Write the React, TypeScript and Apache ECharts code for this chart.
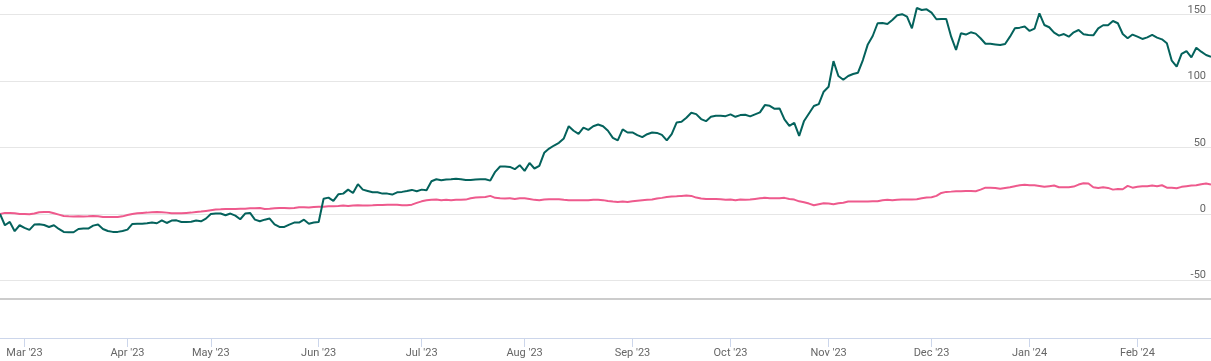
import React, { useEffect, useRef } from "react";
import * as echarts from "echarts";

// Trading calendar (categories)
const startDate = "2023-02-22";
const endDate = "2024-02-22";
const holidays = [
  "2023-03-07", "2023-03-30", "2023-04-04", "2023-04-07", "2023-04-14",
  "2023-05-01", "2023-06-28", "2023-08-15", "2023-09-19", "2023-10-02",
  "2023-10-24", "2023-11-14", "2023-11-27", "2023-12-25", "2024-01-22",
  "2024-01-26",
];
const specialSessions = ["2023-11-12", "2024-01-20"];

const monthNames = ["Jan", "Feb", "Mar", "Apr", "May", "Jun", "Jul", "Aug", "Sep", "Oct", "Nov", "Dec"];

// % return of the stock (dark line)
const stockReturn = [
  0, -8.5, -6, -13, -8.5, -10.5, -12, -8, -7.8, -8.3,
  -9.8, -8.5, -11.3, -13.5, -13.8, -13.8, -11.3, -11, -11, -8.8,
  -8, -11.3, -12.8, -13.5, -13.5, -12.8, -11.8, -7.5, -7.3, -7.3,
  -7, -6.5, -7, -4.8, -6.8, -5, -4.8, -6, -6, -5.8,
  -5, -5.5, -3.5, 0, 0.3, 0.3, -1, 0.3, -1.3, -4,
  0.3, 0.8, -4.3, -5.5, -4.3, -3.5, -7.8, -9.8, -9.8, -8,
  -6.5, -6.5, -4.3, -7.3, -6.5, -6, 11.5, 12.3, 9.8, 14.8,
  15.3, 18.3, 15.8, 22.4, 18.3, 17.3, 16.3, 16.3, 15.3, 15.3,
  14.6, 16.3, 16.6, 17.3, 18.1, 17.1, 18.3, 17.8, 24.6, 26.1,
  25.4, 25.9, 26.1, 26.4, 26.1, 25.6, 25.6, 25.9, 26.1, 26.1,
  25.1, 31.7, 35.7, 35.7, 35.4, 33.7, 36.7, 32.4, 38.4, 34.2,
  36.2, 46, 49.2, 51.5, 53.5, 56.8, 66, 62.6, 60.3, 65,
  63.3, 66, 67.3, 66, 62.6, 57.3, 55.3, 63.6, 61.3, 61.3,
  59.3, 57.8, 60, 61.3, 61, 59.5, 55.3, 60, 68.8, 69.3,
  72.4, 76.1, 75.1, 71.4, 69.8, 73.1, 73.9, 73.9, 73.6, 74.9,
  73.1, 74.4, 74.6, 73.4, 74.9, 76.4, 81.9, 81.4, 79.1, 79.4,
  71.1, 66.3, 68.6, 58.8, 70, 75.6, 81.2, 82.7, 92, 95.7,
  115, 103.8, 101, 103.8, 105.3, 106.3, 115.8, 127.6, 133.9, 143.5,
  143.7, 143, 146, 149.5, 150.3, 148.5, 139.7, 155, 153.5, 154,
  151.5, 146.5, 146.7, 146.7, 133.4, 123.4, 136, 135, 136.7, 135.7,
  132.2, 128.1, 128.1, 127.6, 127.1, 127.9, 133.4, 139.7, 140.2, 141,
  137.7, 139.4, 151, 142.2, 140.5, 136.4, 134.2, 135.4, 133.4, 136.7,
  138.4, 135.2, 134.7, 134.4, 139.7, 142, 142, 145.2, 143.5, 135.4,
  132.2, 135, 133.4, 131.7, 132.9, 134.7, 132.7, 131.4, 128.4, 115.3,
  110.8, 120.4, 122.6, 117.8, 125.1, 122.1, 119.6, 118.3,
];

// % return of the benchmark index (pink line)
const indexReturn = [
  0, 0.8, 0.8, 0.5, 0, 0, -0.3, 0.3, 1.3, 1.5,
  1.5, 0.5, -0.5, -1.5, -1.8, -2, -1.8, -2, -1.8, -1.5,
  -1.8, -2.3, -2.3, -2.3, -2.3, -1.8, -0.8, 0, 0.5, 0.8,
  1, 1.3, 1.5, 1.3, 1, 0.5, 0.5, 0.5, 0.8, 1,
  1.5, 1.8, 2.3, 2.8, 3.3, 3.5, 3.8, 3.8, 3.8, 4,
  4, 4.3, 4.3, 4.5, 3.8, 4, 4.3, 4.5, 4.5, 4.3,
  4.5, 5, 5, 4.8, 5.3, 5.5, 5.5, 5.8, 5.8, 6,
  6.3, 6, 6.3, 6.5, 6.3, 6.3, 6.5, 6.8, 6.8, 7,
  7, 7, 6.5, 6.6, 7, 8.3, 9.5, 10.3, 10.6, 10.8,
  10.3, 10.6, 10.3, 10.6, 10.6, 10.8, 11.8, 12.3, 12.6, 12.8,
  13.6, 12.1, 11.8, 11.6, 11.8, 11.3, 11.8, 11.8, 11.3, 10.6,
  10.3, 10.8, 11.1, 11.1, 11.1, 10.6, 10.3, 10.3, 10.3, 10.3,
  10.3, 10.6, 10.6, 10.4, 9.8, 9.3, 9, 9.3, 9, 9.5,
  10, 10.3, 10.6, 10.8, 11.6, 12.1, 12.8, 13.1, 13.3, 13.6,
  13.8, 13.6, 12.3, 11.6, 11.3, 11.3, 11.3, 11.1, 10.6, 10.8,
  10.3, 10.8, 10.6, 10.8, 11.3, 11.8, 12.1, 11.8, 11.8, 11.8,
  12.1, 11.3, 10.8, 9.5, 8.8, 7.8, 6.5, 7.3, 8, 7.8,
  7.3, 8, 8.5, 9.3, 9.3, 9.3, 9.3, 9.3, 9.5, 9.5,
  10.3, 10.6, 10.3, 10.6, 10.8, 10.8, 10.8, 11.1, 11.8, 12.3,
  12.6, 13.6, 15.8, 16.6, 16.8, 17.1, 17.1, 17.3, 17.3, 17.1,
  18.3, 19.8, 19.8, 19.6, 18.9, 19.5, 20.1, 20.9, 21.6, 21.9,
  21.6, 21.6, 21.1, 20.4, 20.9, 21.4, 20.1, 20.1, 20.1, 20.6,
  22.1, 23.1, 22.9, 20.1, 19.6, 20.1, 19.6, 18.3, 18.8, 18.6,
  21.1, 19.8, 20.4, 20.9, 20.9, 21.4, 20.9, 21.6, 19.8, 19.8,
  19.3, 20.4, 20.9, 21.4, 21.6, 22.4, 22.9, 22.1,
];

const yTicks = [-50, 0, 50, 100, 150];
const yMin = -64;
const yMax = 161;

function buildTradingDays(): string[] {
  const out: string[] = [];
  const hol = new Set(holidays);
  const extra = new Set(specialSessions);
  const d = new Date(startDate + "T00:00:00Z");
  const end = new Date(endDate + "T00:00:00Z");
  while (d.getTime() <= end.getTime()) {
    const s = d.toISOString().slice(0, 10);
    const wd = d.getUTCDay();
    if ((wd !== 0 && wd !== 6 && !hol.has(s)) || extra.has(s)) out.push(s);
    d.setUTCDate(d.getUTCDate() + 1);
  }
  return out;
}

export default function App() {
  const ref = useRef<HTMLDivElement>(null);
  useEffect(() => {
    if (!ref.current) return;
    const chart = echarts.init(ref.current, undefined, { renderer: "svg" });
    const days = buildTradingDays();
    const monthStart = new Set<number>();
    for (let i = 1; i < days.length; i++) {
      if (days[i].slice(0, 7) !== days[i - 1].slice(0, 7)) monthStart.add(i);
    }
    const isStart = (i: number) => monthStart.has(i);
    const fmt = (v: string) => {
      const [y, m] = v.split("-");
      return `${monthNames[parseInt(m, 10) - 1]} '${y.slice(2)}`;
    };
    const font = "Roboto, 'Liberation Sans', sans-serif";
    chart.setOption({
      animation: false,
      textStyle: { fontFamily: font },
      grid: { left: 0, right: 0, top: 0, bottom: 62, containLabel: false },
      xAxis: [
        {
          type: "category",
          data: days,
          boundaryGap: false,
          position: "bottom",
          axisLine: { show: true, onZero: false, lineStyle: { color: "#cccccc", width: 2 } },
          axisTick: { show: false },
          axisLabel: { show: false },
          splitLine: { show: false },
        },
        {
          type: "category",
          data: days,
          boundaryGap: false,
          position: "bottom",
          offset: 39,
          axisLine: { show: true, onZero: false, lineStyle: { color: "#ccd6eb", width: 1 } },
          axisTick: {
            show: true,
            length: 9,
            interval: (i: number) => isStart(i),
            lineStyle: { color: "#ccd6eb", width: 1 },
          },
          axisLabel: {
            show: true,
            interval: (i: number) => isStart(i),
            formatter: (v: string) => fmt(v),
            margin: 9,
            color: "#666666",
            fontSize: 11,
            fontFamily: font,
          },
          splitLine: { show: false },
        },
      ],
      yAxis: {
        type: "value",
        position: "right",
        min: yMin,
        max: yMax,
        axisLine: { show: false },
        axisTick: { show: false, customValues: yTicks },
        axisLabel: {
          customValues: yTicks,
          inside: true,
          margin: 5,
          verticalAlign: "bottom",
          color: "#666666",
          fontSize: 11,
          fontFamily: font,
        },
        splitLine: { show: true, lineStyle: { color: "#e6e6e6", width: 1 } },
      },
      series: [
        {
          name: "Index",
          type: "line",
          xAxisIndex: 0,
          data: indexReturn,
          showSymbol: false,
          symbol: "none",
          lineStyle: { color: "#ee5a8d", width: 2 },
          itemStyle: { color: "#ee5a8d" },
        },
        {
          name: "Stock",
          type: "line",
          xAxisIndex: 0,
          data: stockReturn,
          showSymbol: false,
          symbol: "none",
          lineStyle: { color: "#04625c", width: 2 },
          itemStyle: { color: "#04625c" },
        },
      ],
    });
    return () => chart.dispose();
  }, []);
  return (
    <div
      ref={ref}
      style={{ position: "fixed", left: 0, top: 0, width: 1211, height: 361 }}
    />
  );
}
